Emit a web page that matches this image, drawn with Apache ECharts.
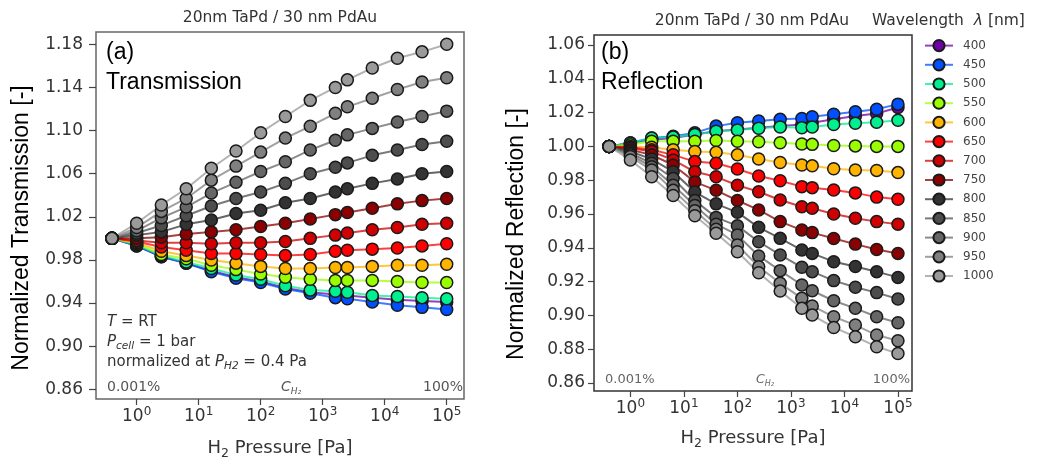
<!DOCTYPE html>
<html><head><meta charset="utf-8">
<script src="https://cdn.jsdelivr.net/npm/echarts@6/dist/echarts.min.js"></script>
<style>html,body{margin:0;padding:0;background:#fff}#c{width:1052px;height:459px}</style>
</head><body><div id="c"></div>
<script>
// H2 pressure (Pa)
const pressure = [0.4, 1, 2.5, 6.3, 16, 40, 100, 250, 630, 1600, 2500, 6300, 16000, 40000, 100000];
const wavelengths = ['400','450','500','550','600','650','700','750','800','850','900','950','1000'];
const colors = ['#7000a8','#0050ff','#00f090','#99ff00','#ffb400','#ff0000','#d00000','#8b0000','#333333','#4d4d4d','#666666','#808080','#9a9a9a'];
const xTicks = [1, 10, 100, 1000, 10000, 100000];
const yTicksA = [0.86, 0.90, 0.94, 0.98, 1.02, 1.06, 1.10, 1.14, 1.18];
const yTicksB = [0.86, 0.88, 0.90, 0.92, 0.94, 0.96, 0.98, 1.00, 1.02, 1.04, 1.06];

// (a) normalized transmission
const T400  = [1.000, 0.993, 0.983, 0.977, 0.970, 0.964, 0.960, 0.954, 0.950, 0.948, 0.947, 0.945, 0.943, 0.942, 0.941];
const T450  = [1.000, 0.993, 0.983, 0.977, 0.969, 0.963, 0.959, 0.953, 0.949, 0.945, 0.944, 0.941, 0.938, 0.936, 0.934];
const T500  = [1.000, 0.994, 0.984, 0.978, 0.972, 0.966, 0.962, 0.956, 0.952, 0.951, 0.950, 0.947, 0.946, 0.945, 0.944];
const T550  = [1.000, 0.995, 0.985, 0.981, 0.975, 0.971, 0.967, 0.964, 0.962, 0.961, 0.961, 0.961, 0.960, 0.959, 0.959];
const T600  = [1.000, 0.996, 0.988, 0.984, 0.980, 0.977, 0.974, 0.972, 0.972, 0.973, 0.973, 0.974, 0.975, 0.975, 0.976];
const T650  = [1.000, 0.997, 0.992, 0.989, 0.986, 0.986, 0.985, 0.984, 0.985, 0.988, 0.989, 0.990, 0.991, 0.993, 0.995];
const T700  = [1.000, 0.998, 0.996, 0.996, 0.995, 0.996, 0.996, 0.997, 1.000, 1.003, 1.005, 1.008, 1.010, 1.013, 1.014];
const T750  = [1.000, 1.000, 1.001, 1.004, 1.006, 1.008, 1.011, 1.014, 1.018, 1.022, 1.024, 1.028, 1.032, 1.035, 1.037];
const T800  = [1.000, 1.003, 1.006, 1.013, 1.017, 1.023, 1.026, 1.033, 1.037, 1.043, 1.046, 1.051, 1.055, 1.060, 1.062];
const T850  = [1.000, 1.005, 1.012, 1.021, 1.030, 1.037, 1.043, 1.051, 1.060, 1.066, 1.070, 1.077, 1.082, 1.087, 1.090];
const T900  = [1.000, 1.007, 1.019, 1.029, 1.042, 1.052, 1.062, 1.071, 1.082, 1.091, 1.096, 1.102, 1.108, 1.113, 1.118];
const T950  = [1.000, 1.010, 1.025, 1.037, 1.054, 1.067, 1.080, 1.093, 1.104, 1.116, 1.122, 1.130, 1.138, 1.145, 1.149];
const T1000 = [1.000, 1.014, 1.031, 1.046, 1.065, 1.081, 1.098, 1.113, 1.128, 1.140, 1.147, 1.158, 1.167, 1.173, 1.180];

// (b) normalized reflection
const R400  = [1.000, 1.002, 1.004, 1.005, 1.007, 1.009, 1.010, 1.011, 1.012, 1.013, 1.014, 1.016, 1.018, 1.0195, 1.023];
const R450  = [1.000, 1.002, 1.005, 1.006, 1.008, 1.012, 1.014, 1.015, 1.016, 1.0165, 1.0175, 1.019, 1.0205, 1.022, 1.025];
const R500  = [1.000, 1.002, 1.005, 1.0055, 1.007, 1.009, 1.0097, 1.0107, 1.0115, 1.011, 1.0115, 1.013, 1.0137, 1.0143, 1.0155];
const R550  = [1.000, 1.001, 1.003, 1.003, 1.003, 1.0035, 1.003, 1.0028, 1.0022, 1.0014, 1.0012, 1.0005, 1.0003, 1.000, 1.000];
const R600  = [1.000, 1.000, 0.9995, 0.998, 0.997, 0.9965, 0.995, 0.9925, 0.9905, 0.989, 0.9885, 0.9868, 0.986, 0.9858, 0.9845];
const R650  = [1.000, 0.9995, 0.998, 0.995, 0.991, 0.990, 0.9866, 0.9825, 0.9797, 0.9762, 0.9756, 0.9742, 0.9725, 0.970, 0.9687];
const R700  = [1.000, 0.999, 0.997, 0.992, 0.985, 0.982, 0.977, 0.9732, 0.9683, 0.9643, 0.9634, 0.960, 0.9575, 0.9555, 0.954];
const R750  = [1.000, 0.998, 0.995, 0.989, 0.979, 0.974, 0.968, 0.9624, 0.9555, 0.9505, 0.949, 0.9455, 0.9422, 0.939, 0.9367];
const R800  = [1.000, 0.997, 0.9925, 0.985, 0.973, 0.966, 0.961, 0.9521, 0.9456, 0.9387, 0.9367, 0.9318, 0.9289, 0.9259, 0.9225];
const R850  = [1.000, 0.996, 0.990, 0.981, 0.968, 0.958, 0.953, 0.9436, 0.9358, 0.9285, 0.9259, 0.9206, 0.9167, 0.9135, 0.9097];
const R900  = [1.000, 0.995, 0.988, 0.977, 0.965, 0.954, 0.9476, 0.9352, 0.9265, 0.918, 0.9146, 0.9087, 0.9042, 0.8992, 0.8957];
const R950  = [1.000, 0.994, 0.986, 0.974, 0.962, 0.951, 0.9417, 0.9288, 0.919, 0.9101, 0.9056, 0.8992, 0.8943, 0.8884, 0.885];
const R1000 = [1.000, 0.992, 0.982, 0.971, 0.959, 0.9486, 0.9377, 0.9253, 0.9144, 0.9042, 0.9002, 0.8929, 0.8874, 0.8815, 0.8775];

const transSets = [T400,T450,T500,T550,T600,T650,T700,T750,T800,T850,T900,T950,T1000];
const reflSets  = [R400,R450,R500,R550,R600,R650,R700,R750,R800,R850,R900,R950,R1000];

const DJ = 'DejaVu Sans';
const AR = 'Liberation Sans';

function mkSeries(vals, i, gi) {
  const c = colors[i];
  return {
    name: wavelengths[i], type: 'line', xAxisIndex: gi, yAxisIndex: gi,
    data: pressure.map((p, j) => [p, vals[j]]),
    symbol: 'circle', symbolSize: 12, showSymbol: true, color: c,
    itemStyle: { color: c, borderColor: '#1a1a1a', borderWidth: 1.5 },
    lineStyle: { color: c, width: 2, opacity: 0.75 },
    emphasis: { disabled: true }, animation: false
  };
}
const series = [];
transSets.forEach((v, i) => series.push(mkSeries(v, i, 0)));
reflSets.forEach((v, i) => series.push(mkSeries(v, i, 1)));

function xAxisCfg(gi, min, max, nameGap) {
  return {
    type: 'log', logBase: 10, gridIndex: gi, min: min, max: max,
    name: 'H{s|2} Pressure [Pa]', nameLocation: 'middle', nameGap: nameGap,
    nameTextStyle: { fontFamily: DJ, fontSize: 18, color: '#333', lineHeight: 24,
      rich: { s: { fontFamily: DJ, fontSize: 12.5, lineHeight: 13, verticalAlign: 'bottom', color: '#333' } } },
    axisLine: { show: false },
    axisTick: { show: true, length: 6, customValues: xTicks, lineStyle: { color: '#444', width: 1.2 } },
    axisLabel: {
      customValues: xTicks, margin: 7, fontFamily: DJ, fontSize: 17, color: '#333', lineHeight: 22,
      formatter: v => '10{sup|' + Math.round(Math.log10(v)) + '}',
      rich: { sup: { fontFamily: DJ, fontSize: 12, lineHeight: 12, verticalAlign: 'top', color: '#333' } }
    },
    splitLine: { show: false }, minorTick: { show: false }
  };
}
function yAxisCfg(gi, min, max, ticks, name, nameGap, pad, tickLen, margin) {
  return {
    type: 'value', gridIndex: gi, min: min, max: max,
    name: name, nameLocation: 'middle', nameGap: nameGap,
    nameTextStyle: { fontFamily: AR, fontSize: 23, color: '#000', padding: [0, pad, 0, 0] },
    axisLine: { show: false },
    axisTick: { show: true, length: tickLen, customValues: ticks, lineStyle: { color: '#444', width: 1.2 } },
    axisLabel: { customValues: ticks, margin: margin, fontFamily: DJ, fontSize: 17, color: '#333',
      formatter: v => v.toFixed(2) },
    splitLine: { show: false }
  };
}

const sub = (size) => ({ fontFamily: DJ, fontSize: size, fontStyle: 'italic', lineHeight: size, verticalAlign: 'bottom', fill: '#333', color: '#333' });
function txt(x, y, text, o) {
  o = o || {};
  return {
    type: 'text', x: x, y: y, silent: true,
    style: Object.assign({
      text: text, fontFamily: DJ, fontSize: 15, fill: '#333',
      align: 'left', verticalAlign: 'middle', lineHeight: 20
    }, o)
  };
}
const annRich = {
  i: { fontFamily: DJ, fontSize: 15, fontStyle: 'italic', lineHeight: 20, fill: '#333', color: '#333' },
  s: sub(10.5)
};
const cRichA = { c: { fontFamily: DJ, fontSize: 14, fontStyle: 'italic', lineHeight: 18, fill: '#555', color: '#555' }, s: Object.assign(sub(9), { fill: '#555', color: '#555' }) };
const cRichB = { c: { fontFamily: DJ, fontSize: 12.5, fontStyle: 'italic', lineHeight: 16, fill: '#666', color: '#666' }, s: Object.assign(sub(8), { fill: '#666', color: '#666' }) };

const graphics = [
  txt(280, 18, '20nm TaPd / 30 nm PdAu', { align: 'center', fontSize: 15.5 }),
  txt(752, 21, '20nm TaPd / 30 nm PdAu', { align: 'center', fontSize: 15.5 }),
  txt(872, 21, 'Wavelength  {l|\u03bb} [nm]', { fontSize: 15.5, rich: { l: { fontFamily: DJ, fontSize: 15.5, fontStyle: 'italic', fill: '#333', color: '#333' } } }),
  txt(106, 53, '(a)', { fontFamily: AR, fontSize: 23, fill: '#000', lineHeight: 26 }),
  txt(106, 83, 'Transmission', { fontFamily: AR, fontSize: 23, fill: '#000', lineHeight: 26 }),
  txt(601, 53, '(b)', { fontFamily: AR, fontSize: 23, fill: '#000', lineHeight: 26 }),
  txt(601, 83, 'Reflection', { fontFamily: AR, fontSize: 23, fill: '#000', lineHeight: 26 }),
  txt(107, 322, '{i|T} = RT', { rich: annRich }),
  txt(107, 342, '{i|P}{s|cell} = 1 bar', { rich: annRich }),
  txt(107, 362, 'normalized at {i|P}{s|H2} = 0.4 Pa', { rich: annRich }),
  txt(107, 387, '0.001%', { fontSize: 14, fill: '#555' }),
  txt(291, 387, '{c|C}{s|H\u2082}', { align: 'center', fontSize: 14, fill: '#555', lineHeight: 18, rich: cRichA }),
  txt(463, 387, '100%', { align: 'right', fontSize: 14, fill: '#555' }),
  txt(605, 380, '0.001%', { fontSize: 13, fill: '#666' }),
  txt(765, 380, '{c|C}{s|H\u2082}', { align: 'center', fontSize: 12.5, fill: '#666', lineHeight: 16, rich: cRichB }),
  txt(910, 380, '100%', { align: 'right', fontSize: 13, fill: '#666' })
];

const option = {
  backgroundColor: '#fff',
  animation: false,
  grid: [
    { left: 96, top: 32, width: 368, height: 367, show: true, borderColor: '#666', borderWidth: 1.5, backgroundColor: 'transparent', containLabel: false, outerBoundsMode: 'none' },
    { left: 594, top: 35, width: 318, height: 356, show: true, borderColor: '#333', borderWidth: 1.5, backgroundColor: 'transparent', containLabel: false, outerBoundsMode: 'none' }
  ],
  xAxis: [
    xAxisCfg(0, 0.221, 190000, 37),
    xAxisCfg(1, 0.209, 183000, 35)
  ],
  yAxis: [
    yAxisCfg(0, 0.851, 1.1914, yTicksA, 'Normalized Transmission [-]', 63, 25, 7, 13),
    yAxisCfg(1, 0.8553, 1.0659, yTicksB, 'Normalized Reflection [-]', 66, 42, 6, 9)
  ],
  legend: {
    show: true, orient: 'vertical', left: 924, top: 39, padding: 0,
    itemWidth: 28, itemHeight: 14, itemGap: 6,
    data: wavelengths,
    textStyle: { fontFamily: DJ, fontSize: 12, color: '#444', padding: [0, 0, 0, 5] },
    selectedMode: false
  },
  graphic: graphics,
  series: series
};

const chart = echarts.init(document.getElementById('c'), null, { renderer: 'canvas' });
chart.setOption(option);
</script>
</body></html>
